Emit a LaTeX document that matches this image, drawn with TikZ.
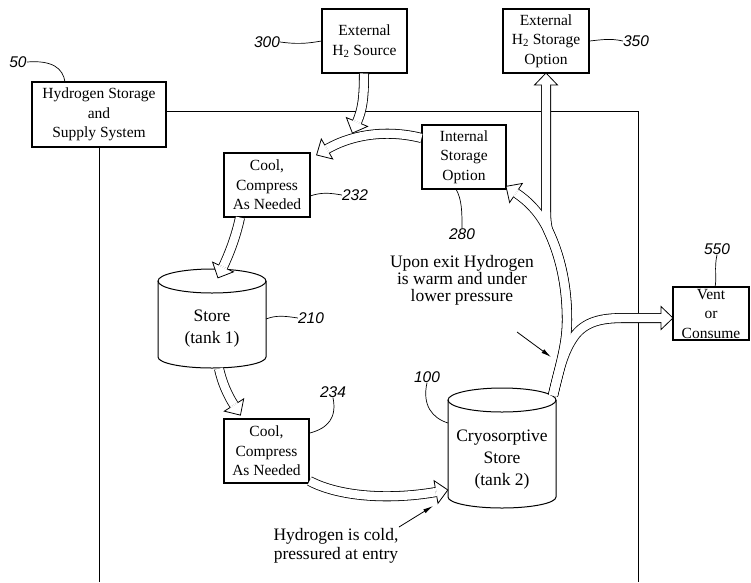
\documentclass[tikz,border=0pt]{standalone}
\usepackage{fontspec}
\setmainfont{Liberation Serif}
\newfontfamily\lblfamily{Liberation Sans}
\usetikzlibrary{arrows.meta,decorations.markings}
\newcommand\bxfont{\fontsize{15.5}{19.5}\selectfont}
\newcommand\bgfont{\fontsize{17.5}{22}\selectfont}
\newcommand\lbfont{\lblfamily\itshape\fontsize{15.5}{15.5}\selectfont}
\tikzset{
  box/.style={draw=black, line width=1.1pt, fill=white, inner sep=0pt, align=center, font=\bxfont},
  frameline/.style={draw=black, line width=0.9pt},
  cyl/.style={draw=black, line width=1pt},
  lbl/.style={font=\lbfont, inner sep=0pt},
  leader/.style={draw=black, line width=0.7pt},
  hshaft/.style={draw=black, line width=10pt, line cap=butt},
  hinner/.style={draw=white, line width=8.4pt, line cap=butt},
  hhead/.style={postaction={decorate, decoration={markings, mark=at position 0.99999 with {
     \filldraw[fill=white, draw=black, line width=0.8pt, line join=miter] (0pt,-11.5pt) -- (12pt,0pt) -- (0pt,11.5pt) -- cycle;
     \fill[white] (-0.6pt,-4.2pt) rectangle (0.7pt,4.2pt);
  }}}},
  ptr/.style={draw=black, line width=0.8pt, -{Latex[length=10pt,width=4.5pt]}},
  freetext/.style={align=center, inner sep=0pt}
}
\begin{document}
\begin{tikzpicture}[x=1pt,y=-1pt]
\useasboundingbox (0,0) rectangle (751,582);
% frame
\draw[frameline] (99,582) -- (99,111) -- (638,111) -- (638,582);
% boxes
\node[box, minimum width=134pt, minimum height=65pt] (b50) at (99,114.5) {Hydrogen Storage\\and\\Supply System};
\node[box, minimum width=85pt, minimum height=64pt] (b300) at (364.5,41) {External\\H\textsubscript{2} Source};
\node[box, minimum width=86pt, minimum height=64pt] (b350) at (546,41) {External\\H\textsubscript{2} Storage\\Option};
\node[box, minimum width=84pt, minimum height=64pt] (b280) at (464,157) {Internal\\Storage\\Option};
\node[box, minimum width=86pt, minimum height=64pt] (b232) at (267,185) {Cool,\\Compress\\As Needed};
\node[box, minimum width=85pt, minimum height=64pt] (b234) at (266.5,451) {Cool,\\Compress\\As Needed};
\node[box, minimum width=76pt, minimum height=53pt] (b550) at (711,313.5) {Vent\\or\\Consume};
% cylinders
\draw[cyl] (158,281) -- (158,357) .. controls (158,363.1) and (182.2,368) .. (212,368) .. controls (241.8,368) and (266,363.1) .. (266,357) -- (266,281);
\draw[cyl] (212,281) ellipse [x radius=54, y radius=12];
\node[freetext, font=\bgfont] (t210) at (212,329) {Store\\(tank 1)};
\draw[cyl] (448,400) -- (448,497) .. controls (448,503.1) and (472.2,508) .. (502,508) .. controls (531.8,508) and (556,503.1) .. (556,497) -- (556,400);
\draw[cyl] (502,400) ellipse [x radius=54, y radius=12];
\node[freetext, font=\bgfont] (t100) at (502,460) {Cryosorptive\\Store\\(tank 2)};
% named ends
\coordinate (s300) at (364,73.5);
\coordinate (s280) at (421.5,138);
\coordinate (s232) at (240,217.5);
\coordinate (s210) at (219,368.6);
\coordinate (s234) at (309.5,481);
\coordinate (s100) at (553,395.5);
% hollow arrows: Internal -> Cool 232
\draw[hshaft] (s280) .. controls (390,130) and (355,133) .. (327,149);
\draw[hinner,hhead] (s280) .. controls (390,130) and (355,133) .. (327,149);
% External source -> loop
\draw[hshaft] (s300) .. controls (364,100) and (362,110) .. (357,122);
\draw[hinner,hhead] (s300) .. controls (364,100) and (362,110) .. (357,122);
% Cool 232 -> Store
\draw[hshaft] (s232) .. controls (236,236) and (230,252) .. (223,267);
\draw[hinner,hhead] (s232) .. controls (236,236) and (230,252) .. (223,267);
% Store -> Cool 234
\draw[hshaft] (s210) .. controls (222,382) and (227,394) .. (234,405);
\draw[hinner,hhead] (s210) .. controls (222,382) and (227,394) .. (234,405);
% Cool 234 -> Cryo
\draw[hshaft] (s234) .. controls (340,497) and (390,500) .. (436,492);
\draw[hinner,hhead] (s234) .. controls (340,497) and (390,500) .. (436,492);
% Cryo tree
\draw[hshaft] (s100) .. controls (560,365) and (567,345) .. (567,320) .. controls (567,285) and (560,255) .. (548,230) .. controls (540,213) and (528,201) .. (516,193);
\draw[hshaft] (s100) .. controls (560,365) and (567,345) .. (567,320) .. controls (567,285) and (560,255) .. (548,230) .. controls (546,222) and (546,215) .. (546,205) -- (546,85);
\draw[hshaft] (s100) .. controls (560,365) and (565,348) .. (576,334) .. controls (588,320) and (605,318) .. (625,318) -- (661,318);
\draw[hinner,hhead] (s100) .. controls (560,365) and (567,345) .. (567,320) .. controls (567,285) and (560,255) .. (548,230) .. controls (540,213) and (528,201) .. (516,193);
\draw[hinner,hhead] (s100) .. controls (560,365) and (567,345) .. (567,320) .. controls (567,285) and (560,255) .. (548,230) .. controls (546,222) and (546,215) .. (546,205) -- (546,85);
\draw[hinner,hhead] (s100) .. controls (560,365) and (565,348) .. (576,334) .. controls (588,320) and (605,318) .. (625,318) -- (661,318);
% free texts
\node[freetext, font=\fontsize{17.5}{17}\selectfont] (tup) at (462,280) {Upon exit Hydrogen\\is warm and under\\lower pressure};
\node[freetext, font=\fontsize{17.5}{18.5}\selectfont] (tcold) at (336,546) {Hydrogen is cold,\\pressured at entry};
\coordinate (p1s) at (517,332);
\coordinate (p1t) at (551,357);
\coordinate (p2s) at (399,527);
\coordinate (p2t) at (433,506);
\draw[ptr] (p1s) -- (p1t);
\draw[ptr] (p2s) -- (p2t);
% reference labels
\node[lbl] (l50) at (18,62) {50};
\node[lbl] (l300) at (267,42) {300};
\node[lbl] (l350) at (636,41) {350};
\node[lbl] (l280) at (462,234) {280};
\node[lbl] (l232) at (355,195) {232};
\node[lbl] (l210) at (311,318) {210};
\node[lbl] (l234) at (333,392) {234};
\node[lbl] (l100) at (427,377) {100};
\node[lbl] (l550) at (717,249) {550};
\draw[leader] (l50.east) .. controls (52,60) and (63,68) .. (65,82);
\draw[leader] (l300.east) .. controls (295,44) and (305,44) .. (b300.west);
\draw[leader] (b350.east) .. controls (600,40) and (610,38) .. (l350.west);
\draw[leader] (456,189) .. controls (462,200) and (462,212) .. (l280.north);
\draw[leader] (310,196) .. controls (322,192) and (330,193) .. (l232.west);
\draw[leader] (266,319) .. controls (276,315) and (285,316) .. (l210.west);
\draw[leader] (310,433) .. controls (328,428) and (337,418) .. (l234.south);
\draw[leader] (l100.south) .. controls (422,405) and (432,418) .. (448,423);
\draw[leader] (l550.south) .. controls (714,268) and (717,278) .. (715,287);
\end{tikzpicture}
\end{document}
